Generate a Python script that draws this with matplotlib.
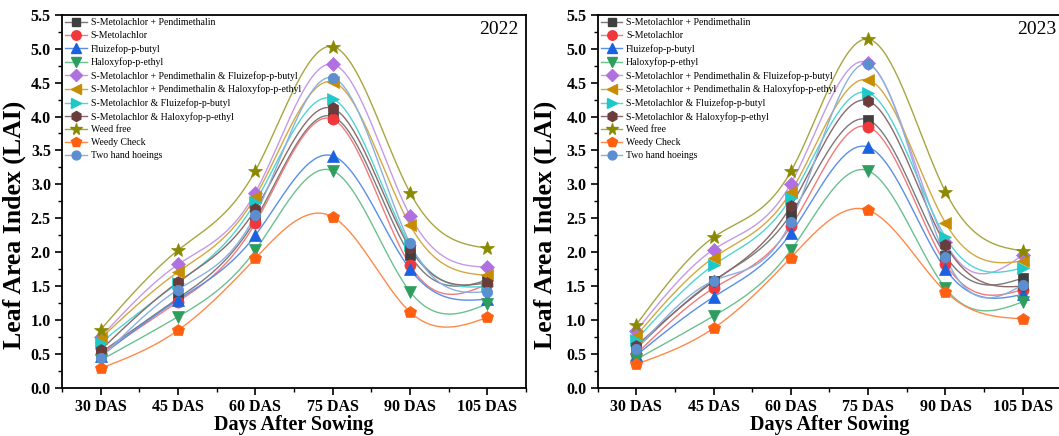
import numpy as np
import matplotlib
matplotlib.use("Agg")
import matplotlib.pyplot as plt
from matplotlib.ticker import MultipleLocator

plt.rcParams['font.family'] = ['Liberation Serif', 'DejaVu Serif']

categories = ["30 DAS", "45 DAS", "60 DAS", "75 DAS", "90 DAS", "105 DAS"]

treatments = [
    "S-Metolachlor + Pendimethalin",
    "S-Metolachlor",
    "Fluizefop-p-butyl",
    "Haloxyfop-p-ethyl",
    "S-Metolachlor + Pendimethalin & Fluizefop-p-butyl",
    "S-Metolachlor + Pendimethalin & Haloxyfop-p-ethyl",
    "S-Metolachlor & Fluizefop-p-butyl",
    "S-Metolachlor & Haloxyfop-p-ethyl",
    "Weed free",
    "Weedy Check",
    "Two hand hoeings",
]

# 2022 values
smp_2022 = [0.52, 1.32, 2.48, 4.00, 1.96, 1.59]
sm_2022 = [0.50, 1.27, 2.43, 3.96, 1.81, 1.53]
flu_2022 = [0.47, 1.30, 2.25, 3.42, 1.75, 1.31]
hal_2022 = [0.41, 1.05, 2.03, 3.20, 1.42, 1.24]
smpf_2022 = [0.75, 1.82, 2.88, 4.77, 2.54, 1.78]
smph_2022 = [0.73, 1.71, 2.82, 4.51, 2.40, 1.66]
smf_2022 = [0.67, 1.55, 2.74, 4.26, 2.10, 1.50]
smh_2022 = [0.56, 1.56, 2.63, 4.12, 2.06, 1.55]
wf_2022 = [0.86, 2.03, 3.20, 5.03, 2.88, 2.06]
wc_2022 = [0.29, 0.85, 1.91, 2.52, 1.12, 1.04]
thh_2022 = [0.44, 1.45, 2.55, 4.57, 2.13, 1.42]

# 2023 values
smp_2023 = [0.58, 1.58, 2.56, 3.95, 1.95, 1.62]
sm_2023 = [0.50, 1.47, 2.38, 3.85, 1.83, 1.45]
flu_2023 = [0.48, 1.34, 2.28, 3.55, 1.75, 1.38]
hal_2023 = [0.42, 1.06, 2.03, 3.20, 1.47, 1.27]
smpf_2023 = [0.84, 2.04, 3.01, 4.79, 2.15, 1.96]
smph_2023 = [0.77, 1.92, 2.89, 4.54, 2.43, 1.87]
smf_2023 = [0.71, 1.81, 2.80, 4.35, 2.22, 1.77]
smh_2023 = [0.62, 1.57, 2.68, 4.23, 2.11, 1.50]
wf_2023 = [0.93, 2.22, 3.19, 5.14, 2.89, 2.02]
wc_2023 = [0.35, 0.88, 1.92, 2.62, 1.42, 1.02]
thh_2023 = [0.57, 1.58, 2.45, 4.77, 1.93, 1.52]

data_2022 = [smp_2022, sm_2022, flu_2022, hal_2022, smpf_2022, smph_2022,
             smf_2022, smh_2022, wf_2022, wc_2022, thh_2022]
data_2023 = [smp_2023, sm_2023, flu_2023, hal_2023, smpf_2023, smph_2023,
             smf_2023, smh_2023, wf_2023, wc_2023, thh_2023]

styles = [
    dict(marker='s', mc='#3f3f3f', lc='#7a7a7a'),
    dict(marker='o', mc='#f0383c', lc='#f27a7a'),
    dict(marker='^', mc='#1a62e0', lc='#5a8ee8'),
    dict(marker='v', mc='#2e9e5e', lc='#6cc090'),
    dict(marker='D', mc='#b070e0', lc='#c49ae8'),
    dict(marker='<', mc='#c88c00', lc='#d4a840'),
    dict(marker='>', mc='#1ec8c8', lc='#50d4d4'),
    dict(marker='h', mc='#6a3c3c', lc='#8a6a6a'),
    dict(marker='*', mc='#8a8a00', lc='#a6a640'),
    dict(marker='p', mc='#ff6010', lc='#ff8a4a'),
    dict(marker='o', mc='#5b8fd0', lc='#8ab0e0'),
]
msizes = [7, 8, 8, 8, 7.5, 8, 8, 8.5, 10, 9, 7.5]


def natural_spline(x, y, n=200):
    x = np.asarray(x, float)
    y = np.asarray(y, float)
    k = len(x)
    h = np.diff(x)
    A = np.zeros((k, k))
    b = np.zeros(k)
    A[0, 0] = 1
    A[-1, -1] = 1
    for i in range(1, k - 1):
        A[i, i - 1] = h[i - 1]
        A[i, i] = 2 * (h[i - 1] + h[i])
        A[i, i + 1] = h[i]
        b[i] = 3 * ((y[i + 1] - y[i]) / h[i] - (y[i] - y[i - 1]) / h[i - 1])
    c = np.linalg.solve(A, b)
    xs = np.linspace(x[0], x[-1], n)
    ys = np.empty_like(xs)
    for j, xv in enumerate(xs):
        i = min(np.searchsorted(x, xv, side='right') - 1, k - 2)
        bi = (y[i + 1] - y[i]) / h[i] - h[i] * (2 * c[i] + c[i + 1]) / 3
        di = (c[i + 1] - c[i]) / (3 * h[i])
        dx = xv - x[i]
        ys[j] = y[i] + bi * dx + c[i] * dx ** 2 + di * dx ** 3
    return xs, ys


fig = plt.figure(figsize=(10.59, 4.36), dpi=100)
W, H = 1059, 436
ax1 = fig.add_axes([62 / W, (H - 388) / H, 464 / W, 373.3 / H])
ax2 = fig.add_axes([597.5 / W, (H - 388) / H, 464 / W, 373.3 / H])

xpos = np.arange(1, len(categories) + 1)

for ax, data, lx in [(ax1, data_2022, -0.077), (ax2, data_2023, -0.088)]:
    for vals, st, ms, lab in zip(data, styles, msizes, treatments):
        xs, ys = natural_spline(xpos, vals)
        ax.plot(xs, ys, color=st['lc'], lw=1.0, zorder=2)
        ax.plot(xpos, vals, linestyle='none', marker=st['marker'],
                color=st['mc'], markersize=ms, markeredgewidth=0.5,
                markeredgecolor=st['mc'], zorder=3)
        ax.plot([], [], color=st['lc'], lw=1.0, marker=st['marker'],
                markerfacecolor=st['mc'], markeredgecolor=st['mc'],
                markersize=ms * 0.85, label=lab)
    ax.set_xlim(0.5, 6.5)
    ax.set_ylim(0, 5.5)
    ax.set_xticks(xpos)
    ax.set_xticklabels(categories)
    ax.xaxis.set_minor_locator(MultipleLocator(0.5))
    ax.yaxis.set_major_locator(MultipleLocator(0.5))
    ax.yaxis.set_minor_locator(MultipleLocator(0.25))
    ax.tick_params(axis='both', which='major', direction='out', length=5,
                   width=1.2, labelsize=11.5, pad=3)
    ax.tick_params(axis='both', which='minor', direction='out', length=3,
                   width=1.0)
    ax.tick_params(top=False, right=False, which='both')
    for lab in ax.get_xticklabels() + ax.get_yticklabels():
        lab.set_fontweight('bold')
    for sp in ax.spines.values():
        sp.set_linewidth(1.3)
    ax.set_xlabel("Days After Sowing", fontsize=14.5, fontweight='bold',
                  labelpad=0)
    ax.set_ylabel("Leaf Area Index (LAI)", fontsize=18.5, fontweight='bold')
    ax.yaxis.set_label_coords(lx, 0.437)
    ax.legend(loc='upper left', fontsize=7.0, frameon=False,
              handlelength=2.2, handletextpad=0.4, labelspacing=0.4,
              borderaxespad=0.25, borderpad=0.1)

fig.text(519 / W, (H - 30) / H, "2022", ha='right', va='center', fontsize=14)
fig.text(1056 / W, (H - 30) / H, "2023", ha='right', va='center', fontsize=14)

fig.savefig("out.png", dpi=100)
